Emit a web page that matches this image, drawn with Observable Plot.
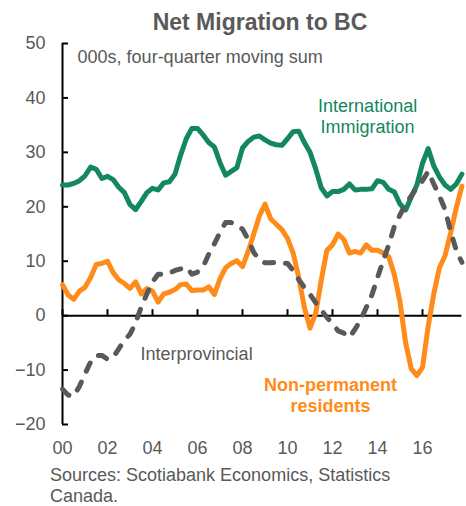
<!DOCTYPE html>
<html><head><meta charset="utf-8">
<script src="https://cdn.jsdelivr.net/npm/d3@7"></script>
<script src="https://cdn.jsdelivr.net/npm/@observablehq/plot@0.6"></script>
<style>
body{margin:0;background:#fff;font-family:"Liberation Sans",Arial,sans-serif;color:#595959;}
#title{height:34px;line-height:44px;font-size:23px;font-weight:bold;text-align:center;padding-left:54px;box-sizing:border-box;width:466px;white-space:nowrap;}
#chart svg{display:block;overflow:visible;}
#caption{margin:5px 0 0 50px;font-size:18px;line-height:20.6px;white-space:nowrap;}
</style></head><body>
<div id="title">Net Migration to BC</div>
<div id="chart"></div>
<div id="caption">Sources: Scotiabank Economics, Statistics<br>Canada.</div>
<script>
// Quarterly data, 2000Q1 .. 2017Q4, thousands (four-quarter moving sum)
const startYear = 2000;
const international = [
  24.0,24.0,24.3,24.8,25.7,27.3,26.9,25.2,25.6,25.0,
  23.6,22.6,20.4,19.5,21.0,22.6,23.4,23.1,24.4,24.6,
  26.0,29.5,32.5,34.4,34.4,33.2,31.8,31.0,28.1,25.8,
  26.5,27.2,30.8,32.0,32.8,33.0,32.3,31.7,31.4,31.3,
  32.5,33.8,33.9,31.8,30.0,27.0,23.5,22.0,22.8,22.8,
  23.2,24.2,23.1,23.2,23.2,23.3,24.8,24.5,23.2,22.7,
  20.5,19.4,21.8,24.0,28.0,30.7,27.5,25.5,24.0,23.2,
  24.2,26.0
];
const nonPermanent = [
  5.7,3.8,3.0,4.5,5.2,7.0,9.4,9.6,10.0,7.9,
  6.6,5.9,5.0,6.2,4.0,5.0,4.5,2.5,4.0,4.3,
  4.8,5.7,5.8,4.6,4.7,4.7,5.3,3.9,6.8,8.8,
  9.6,10.1,9.0,11.8,15.0,18.3,20.5,17.8,16.8,15.8,
  14.2,11.5,7.0,1.5,-2.3,0.4,6.5,12.0,13.0,15.0,
  14.0,11.5,11.8,11.5,13.0,12.0,12.0,11.5,10.8,7.5,
  2.5,-5.0,-9.8,-11.0,-9.5,-2.0,4.0,8.8,11.0,15.2,
  19.8,23.8
];
const interprovincial = [
  -13.5,-14.6,-14.8,-13.0,-10.7,-8.5,-7.3,-7.3,-8.0,-7.7,
  -6.1,-4.5,-3.4,-1.3,1.6,4.0,6.2,7.6,7.6,7.8,
  8.3,8.6,8.9,7.6,8.0,9.0,11.3,13.2,15.3,17.1,
  17.1,16.6,15.9,14.0,11.6,10.3,9.7,9.7,9.8,9.7,
  9.6,8.3,6.6,5.2,3.9,2.4,1.0,-0.3,-1.5,-2.8,
  -3.2,-4.0,-2.5,-0.8,1.5,3.8,7.0,10.1,13.0,16.4,
  18.5,20.5,22.0,23.5,24.8,26.5,24.2,22.0,19.5,15.5,
  12.0,9.8
];
const yTicks = [-20,-10,0,10,20,30,40,50];
const xTickYears = [2000,2002,2004,2006,2008,2010,2012,2014,2016];
const xTickLabels = ["00","02","04","06","08","10","12","14","16"];
const seriesNames = ["International Immigration","Non-permanent residents","Interprovincial"];

const GRAY = "#595959", GREEN = "#13875d", ORANGE = "#ff8c1a";
const FONT = "Liberation Sans, Arial, sans-serif";

const quarterX = i => startYear + i / 4;
const toRows = (arr, name) => arr.map((v, i) => ({date: quarterX(i), value: v, series: name}));
const intlRows = toRows(international, seriesNames[0]);
const npRows = toRows(nonPermanent, seriesNames[1]);
const ipRows = toRows(interprovincial, seriesNames[2]);

const annotations = [
  {text: "000s, four-quarter moving sum", x: 2000.67, y: 47.5},
  {text: "International\nImmigration", x: 2013.56, y: 36.8},
  {text: "Interprovincial", x: 2003.47, y: -7.0},
  {text: "Non-permanent\nresidents", x: 2011.91, y: -14.5}
];

const tickLenX = 6 / 22.5;   // ~6px in years
const tickLenY = 6 / 5.443;  // ~6px in thousands

const chart = Plot.plot({
  width: 466, height: 426,
  marginLeft: 62, marginRight: 4.6, marginTop: 9, marginBottom: 36,
  style: {fontFamily: FONT, fontSize: "18px", color: GRAY, background: "#fff", overflow: "visible"},
  x: {domain: [2000, 2017.75], axis: null},
  y: {domain: [-20, 50], axis: null},
  marks: [
    Plot.axisY(yTicks, {tickSize: 0, tickPadding: 17, fill: GRAY, fontSize: 18}),
    Plot.axisX(xTickYears, {tickSize: 0, tickPadding: 17, fill: GRAY, fontSize: 18,
      tickFormat: d => xTickLabels[xTickYears.indexOf(d)]}),
    Plot.ruleX([startYear], {stroke: "#000", strokeWidth: 2}),
    Plot.ruleY(yTicks, {x1: startYear, x2: startYear + tickLenX, stroke: "#000", strokeWidth: 2}),
    Plot.ruleY([0], {stroke: "#000", strokeWidth: 2}),
    Plot.ruleX(xTickYears, {y1: 0, y2: tickLenY, stroke: "#000", strokeWidth: 2}),
    Plot.line(npRows, {x: "date", y: "value", stroke: ORANGE, strokeWidth: 5}),
    Plot.line(intlRows, {x: "date", y: "value", stroke: GREEN, strokeWidth: 5}),
    Plot.line(ipRows, {x: "date", y: "value", stroke: GRAY, strokeWidth: 5,
      strokeDasharray: "9,12", strokeLinecap: "round"}),
    Plot.text([annotations[0]], {x: "x", y: "y", text: "text", textAnchor: "start", fill: GRAY, fontSize: 18}),
    Plot.text([annotations[1]], {x: "x", y: "y", text: "text", textAnchor: "middle", fill: GREEN, fontSize: 18, lineHeight: 1.17}),
    Plot.text([annotations[2]], {x: "x", y: "y", text: "text", textAnchor: "start", fill: GRAY, fontSize: 18}),
    Plot.text([annotations[3]], {x: "x", y: "y", text: "text", textAnchor: "middle", fill: ORANGE, fontSize: 18, fontWeight: "bold", lineHeight: 1.2})
  ]
});
document.getElementById("chart").appendChild(chart);
</script>
</body></html>
